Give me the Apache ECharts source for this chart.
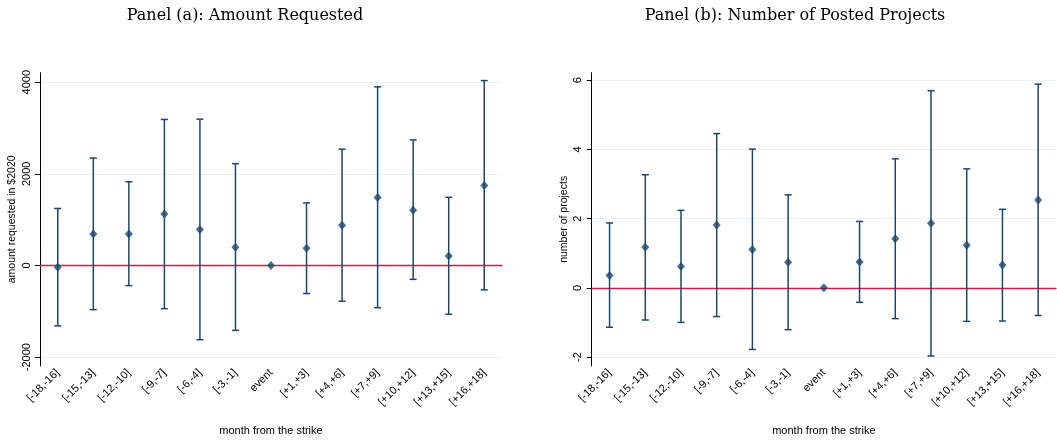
<!DOCTYPE html>
<html>
<head>
<meta charset="utf-8">
<script src="https://cdn.jsdelivr.net/npm/echarts@6/dist/echarts.min.js"></script>
<style>
html,body{margin:0;padding:0;background:#fff;}
#chart{width:1057px;height:441px;}
</style>
</head>
<body>
<div id="chart"></div>
<script>
const categories = ['[-18,-16]', '[-15,-13]', '[-12,-10]', '[-9,-7]', '[-6,-4]', '[-3,-1]', 'event', '[+1,+3]', '[+4,+6]', '[+7,+9]', '[+10,+12]', '[+13,+15]', '[+16,+18]'];

const amountEst = [-35, 690, 690, 1122, 785, 397, 0, 375, 878, 1482, 1208, 209, 1748];
const amountLo  = [-1316, -963, -438, -941, -1618, -1415, 0, -611, -777, -920, -302, -1064, -531];
const amountHi  = [1245, 2345, 1827, 3187, 3194, 2222, 0, 1367, 2539, 3898, 2741, 1489, 4035];

const projEst = [0.36, 1.17, 0.62, 1.82, 1.11, 0.74, 0, 0.75, 1.42, 1.87, 1.23, 0.66, 2.54];
const projLo  = [-1.14, -0.93, -1.00, -0.83, -1.78, -1.21, 0, -0.42, -0.89, -1.97, -0.97, -0.96, -0.80];
const projHi  = [1.875, 3.27, 2.24, 4.46, 4.01, 2.69, 0, 1.92, 3.73, 5.70, 3.44, 2.27, 5.89];

const amountTicks = [-2000, 0, 2000, 4000];
const projTicks = [-2, 0, 2, 4, 6];

const titles = ['Panel (a): Amount Requested', 'Panel (b): Number of Posted Projects'];
const yNames = ['amount requested in $2020', 'number of projects'];
const xName = 'month from the strike';

const NAVY = '#1a476f';
const RED = '#cc1f45';
const FONT = 'Liberation Sans, Arial, sans-serif';

function errRender(params, api) {
  const lo = api.value(1), hi = api.value(2);
  if (lo === hi) return null;
  const i = api.value(0);
  const p1 = api.coord([i, hi]);
  const p2 = api.coord([i, lo]);
  const x = p1[0];
  const cap = 3.5;
  const st = { stroke: NAVY, lineWidth: 1.5 };
  return {
    type: 'group',
    children: [
      { type: 'line', shape: { x1: x, y1: p1[1], x2: x, y2: p2[1] }, style: st },
      { type: 'line', shape: { x1: x - cap, y1: p1[1], x2: x + cap, y2: p1[1] }, style: st },
      { type: 'line', shape: { x1: x - cap, y1: p2[1], x2: x + cap, y2: p2[1] }, style: st }
    ]
  };
}

function xAxis(idx) {
  return {
    type: 'category', gridIndex: idx, data: categories, boundaryGap: true,
    name: xName, nameLocation: 'middle', nameGap: 59,
    nameTextStyle: { fontFamily: FONT, fontSize: 11, color: '#000' },
    axisLine: { lineStyle: { color: '#000', width: 1 } },
    axisTick: { alignWithLabel: true, length: 5, lineStyle: { color: '#000' } },
    axisLabel: { rotate: 45, fontFamily: FONT, fontSize: 11, color: '#000', margin: 5, interval: 0 },
    splitLine: { show: false }
  };
}

function yAxis(idx, min, max, split, ticks, name, gap) {
  return {
    type: 'value', gridIndex: idx, min: min, max: max, splitNumber: split,
    name: name, nameLocation: 'middle', nameGap: gap,
    nameTextStyle: { fontFamily: FONT, fontSize: 10.5, color: '#000' },
    axisLine: { show: true, lineStyle: { color: '#000', width: 1 } },
    axisTick: { show: true, length: 5, lineStyle: { color: '#000' }, customValues: ticks },
    axisLabel: { rotate: 90, fontFamily: FONT, fontSize: 11, color: '#000', margin: 8,
                 customValues: ticks, formatter: function (v) { return String(v); } },
    splitLine: { show: true, lineStyle: { color: '#eaf2f3', width: 1 } }
  };
}

function seriesFor(idx, est, lo, hi) {
  return [
    {
      type: 'custom', xAxisIndex: idx, yAxisIndex: idx, z: 3,
      renderItem: errRender,
      data: categories.map((c, i) => [i, lo[i], hi[i]]),
      silent: true
    },
    {
      type: 'scatter', xAxisIndex: idx, yAxisIndex: idx, z: 4,
      symbol: 'diamond', symbolSize: [8, 9],
      itemStyle: { color: NAVY },
      data: categories.map((c, i) => [i, est[i]]),
      markLine: {
        silent: true, symbol: 'none', label: { show: false }, z: 2,
        lineStyle: { color: RED, width: 1.3, type: 'solid' },
        data: [{ yAxis: 0 }]
      }
    }
  ];
}

const chart = echarts.init(document.getElementById('chart'), null, { renderer: 'canvas' });
chart.setOption({
  animation: false,
  backgroundColor: '#fff',
  title: [
    { text: titles[0], left: 240, top: 3, textAlign: 'center',
      textStyle: { fontFamily: 'DejaVu Serif', fontSize: 16, fontWeight: 'normal', color: '#000' } },
    { text: titles[1], left: 790, top: 3, textAlign: 'center',
      textStyle: { fontFamily: 'DejaVu Serif', fontSize: 16, fontWeight: 'normal', color: '#000' } }
  ],
  grid: [
    { left: 40, right: 555, top: 72.7, bottom: 71.7 },
    { left: 591.7, right: 1, top: 72.7, bottom: 71.7 }
  ],
  xAxis: [xAxis(0), xAxis(1)],
  yAxis: [
    yAxis(0, -2192, 4207, 3, amountTicks, yNames[0], 22),
    yAxis(1, -2.26, 6.22, 4, projTicks, yNames[1], 22)
  ],
  series: [].concat(seriesFor(0, amountEst, amountLo, amountHi), seriesFor(1, projEst, projLo, projHi))
});
</script>
</body>
</html>
